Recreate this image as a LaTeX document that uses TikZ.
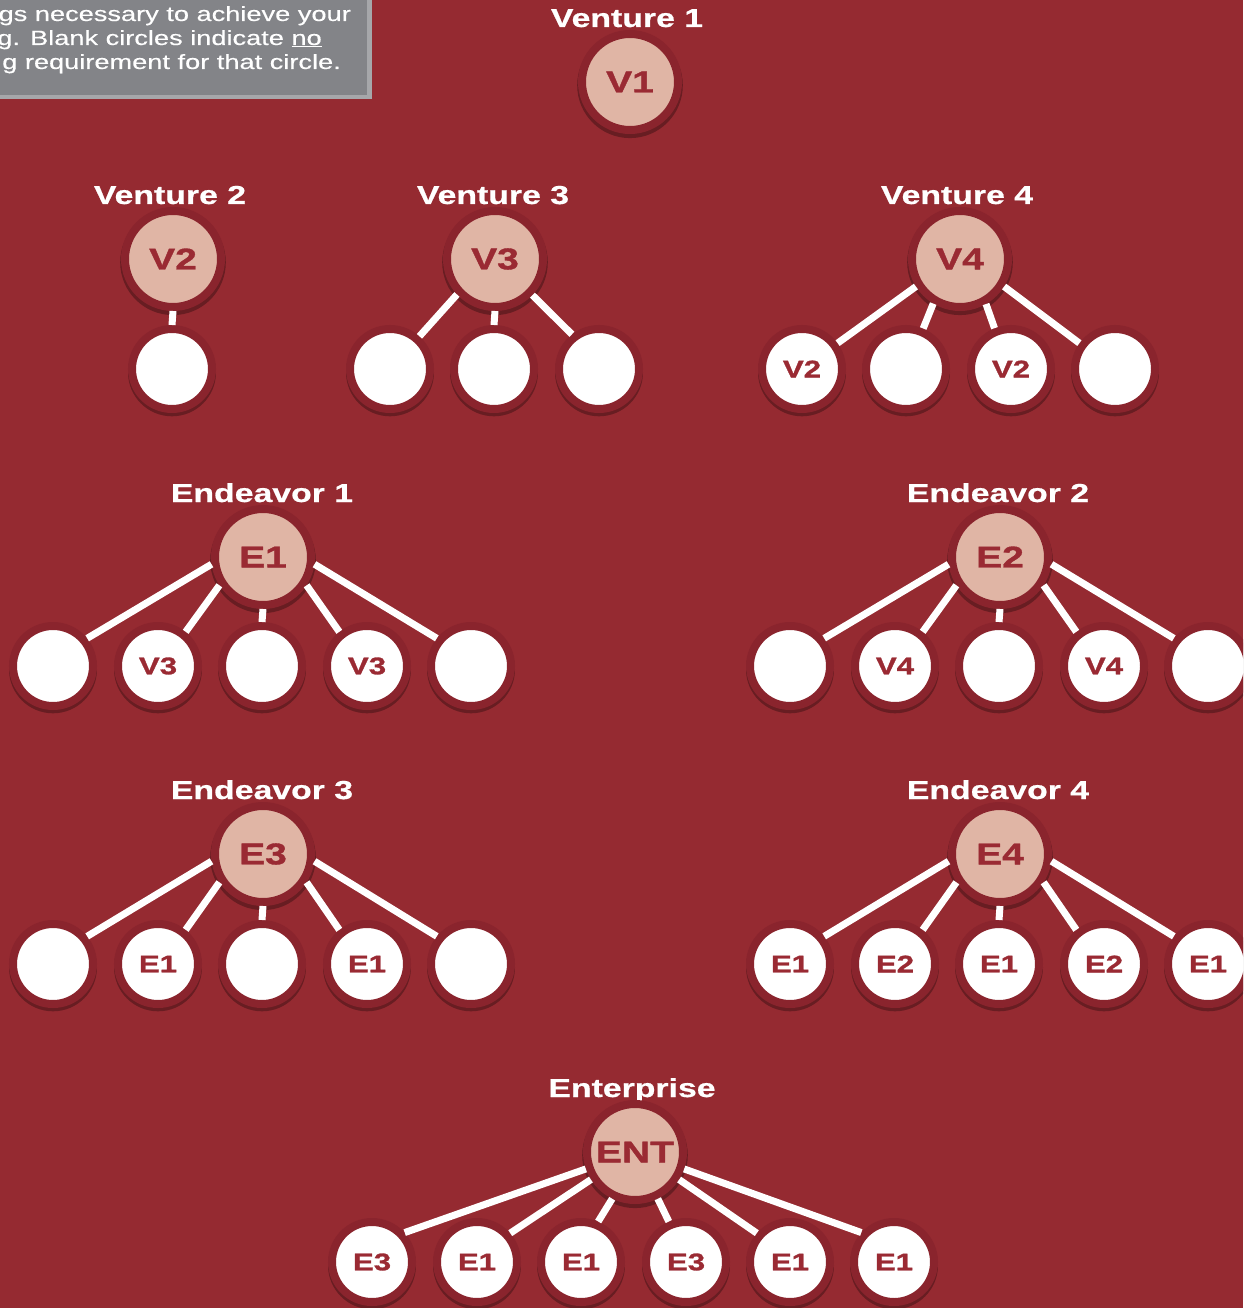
\documentclass[tikz,border=0pt]{standalone}
\usepackage{fontspec}
\setmainfont[FakeStretch=1.3]{Liberation Sans}
\newfontfamily\boxfont[FakeStretch=1.32,FakeBold=0.4]{Liberation Sans}
\newfontfamily\labfont[FakeStretch=1.3,FakeBold=1.2]{Liberation Sans Bold}
\newfontfamily\headfont[FakeStretch=1.3,FakeBold=0.6]{Liberation Sans Bold}
\usetikzlibrary{shadows}
\definecolor{bg}{HTML}{952A31}
\definecolor{ringc}{HTML}{8A242D}
\definecolor{pinkc}{HTML}{E0B5A5}
\definecolor{labc}{HTML}{9A2A33}
\definecolor{boxfill}{HTML}{838488}
\definecolor{boxedge}{HTML}{A6A7AA}
\tikzset{
  ringshadow/.style={drop shadow={shadow xshift=0pt, shadow yshift=-3pt, shadow scale=1.1, opacity=0.3, fill=black}},
  parentnode/.style={circle, fill=pinkc, draw=ringc, line width=8pt, minimum size=96pt, inner sep=0pt,
    text=labc, font=\labfont\fontsize{30}{32}\selectfont, ringshadow},
  leafnode/.style={circle, fill=white, draw=ringc, line width=8pt, minimum size=80pt, inner sep=0pt,
    text=labc, font=\labfont\fontsize{24}{26}\selectfont, ringshadow},
  headtext/.style={text=white, font=\headfont\fontsize{26}{30}\selectfont, anchor=base, inner sep=0pt},
  boxtext/.style={text=white, font=\boxfont\fontsize{20.6}{24}\selectfont, anchor=base east, inner sep=0pt},
  conn/.style={draw=white, line width=7pt},
}
\begin{document}
\begin{tikzpicture}[x=1pt,y=-1pt]
\useasboundingbox (0,0) rectangle (1243,1308);
\clip (0,0) rectangle (1243,1308);
\fill[bg] (0,0) rectangle (1243,1308);

% legend box
\fill[boxedge] (-10,-10) rectangle (372,99);
\fill[boxfill] (-10,-10) rectangle (367,95);
\node[boxtext] (l1) at (351,21) {gs necessary to achieve your};
\node[boxtext] (l2) at (322,45) {g. Blank circles indicate \underline{no}};
\node[boxtext] (l3) at (341,69) {g requirement for that circle.};

% Venture 1
\node[headtext] (h1) at (627,27) {Venture 1};
\node[parentnode] (v1) at (630,82) {V1};

% Venture 2
\node[headtext] (h2) at (170,204) {Venture 2};
\node[parentnode] (v2) at (173,259) {V2};
\node[leafnode] (v2a) at (172,369) {};
\draw[conn] (v2.south) -- (v2a.north);

% Venture 3
\node[headtext] (h3) at (493,204) {Venture 3};
\node[parentnode] (v3) at (495,259) {V3};
\node[leafnode] (v3a) at (390,369) {};
\node[leafnode] (v3b) at (494,369) {};
\node[leafnode] (v3c) at (599,369) {};
\draw[conn] (v3.223) -- (v3a.48);
\draw[conn] (v3.south) -- (v3b.north);
\draw[conn] (v3.316) -- (v3c.128);

% Venture 4
\node[headtext] (h4) at (957,204) {Venture 4};
\node[parentnode] (v4) at (960,259) {V4};
\node[leafnode] (v4a) at (802,369) {V2};
\node[leafnode] (v4b) at (906,369) {};
\node[leafnode] (v4c) at (1011,369) {V2};
\node[leafnode] (v4d) at (1115,369) {};
\draw[conn] (v4.212) -- (v4a.36);
\draw[conn] (v4.239) -- (v4b.67);
\draw[conn] (v4.300) -- (v4c.112);
\draw[conn] (v4.328) -- (v4d.144);

% Endeavor 1
\node[headtext] (h5) at (262,502) {Endeavor 1};
\node[parentnode] (e1) at (263,557) {E1};
\node[leafnode] (e1a) at (53,666) {};
\node[leafnode] (e1b) at (158,666) {V3};
\node[leafnode] (e1c) at (262,666) {};
\node[leafnode] (e1d) at (367,666) {V3};
\node[leafnode] (e1e) at (471,666) {};
\draw[conn] (e1.188) -- (e1a.39);
\draw[conn] (e1.213) -- (e1b.51);
\draw[conn] (e1.south) -- (e1c.north);
\draw[conn] (e1.327) -- (e1d.129);
\draw[conn] (e1.352) -- (e1e.141);

% Endeavor 2
\node[headtext] (h6) at (998,502) {Endeavor 2};
\node[parentnode] (e2) at (1000,557) {E2};
\node[leafnode] (e2a) at (790,666) {};
\node[leafnode] (e2b) at (895,666) {V4};
\node[leafnode] (e2c) at (999,666) {};
\node[leafnode] (e2d) at (1104,666) {V4};
\node[leafnode] (e2e) at (1208,666) {};
\draw[conn] (e2.188) -- (e2a.39);
\draw[conn] (e2.213) -- (e2b.51);
\draw[conn] (e2.south) -- (e2c.north);
\draw[conn] (e2.327) -- (e2d.129);
\draw[conn] (e2.352) -- (e2e.141);

% Endeavor 3
\node[headtext] (h7) at (262,799) {Endeavor 3};
\node[parentnode] (e3) at (263,854) {E3};
\node[leafnode] (e3a) at (53,964) {};
\node[leafnode] (e3b) at (158,964) {E1};
\node[leafnode] (e3c) at (262,964) {};
\node[leafnode] (e3d) at (367,964) {E1};
\node[leafnode] (e3e) at (471,964) {};
\draw[conn] (e3.188) -- (e3a.39);
\draw[conn] (e3.213) -- (e3b.51);
\draw[conn] (e3.south) -- (e3c.north);
\draw[conn] (e3.327) -- (e3d.129);
\draw[conn] (e3.352) -- (e3e.141);

% Endeavor 4
\node[headtext] (h8) at (998,799) {Endeavor 4};
\node[parentnode] (e4) at (1000,854) {E4};
\node[leafnode] (e4a) at (790,964) {E1};
\node[leafnode] (e4b) at (895,964) {E2};
\node[leafnode] (e4c) at (999,964) {E1};
\node[leafnode] (e4d) at (1104,964) {E2};
\node[leafnode] (e4e) at (1208,964) {E1};
\draw[conn] (e4.188) -- (e4a.39);
\draw[conn] (e4.213) -- (e4b.51);
\draw[conn] (e4.south) -- (e4c.north);
\draw[conn] (e4.327) -- (e4d.129);
\draw[conn] (e4.352) -- (e4e.141);

% Enterprise
\node[headtext] (h9) at (632,1097) {Enterprise};
\node[parentnode] (ent) at (635,1152) {ENT};
\node[leafnode] (n1) at (372,1262) {E3};
\node[leafnode] (n2) at (477,1262) {E1};
\node[leafnode] (n3) at (581,1262) {E1};
\node[leafnode] (n4) at (686,1262) {E3};
\node[leafnode] (n5) at (790,1262) {E1};
\node[leafnode] (n6) at (894,1262) {E1};
\draw[conn] (ent.199) -- (n1.42);
\draw[conn] (ent.212) -- (n2.41);
\draw[conn] (ent.244) -- (n3.67);
\draw[conn] (ent.296) -- (n4.113);
\draw[conn] (ent.328) -- (n5.139);
\draw[conn] (ent.341) -- (n6.138);
\end{tikzpicture}
\end{document}
